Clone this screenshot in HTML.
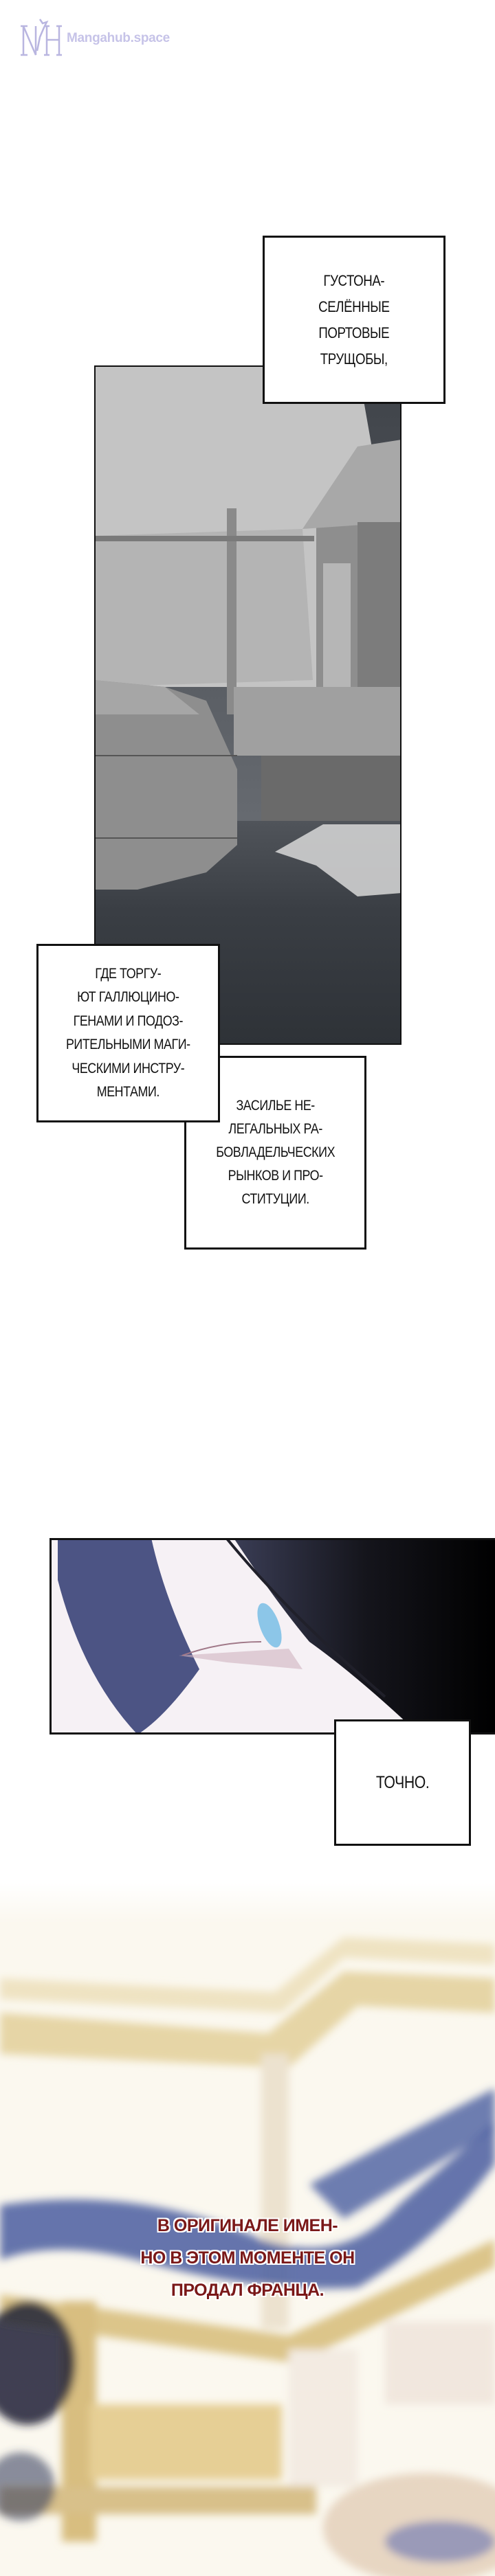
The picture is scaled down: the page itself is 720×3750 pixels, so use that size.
<!DOCTYPE html>
<html><head><meta charset="utf-8">
<style>
html,body{margin:0;padding:0;background:#fff;}
body{width:720px;height:3750px;position:relative;overflow:hidden;font-family:"Liberation Sans",sans-serif;}
.abs{position:absolute;}
.box{position:absolute;background:#fff;border:3px solid #111;box-sizing:border-box;display:flex;align-items:center;justify-content:center;text-align:center;color:#111;font-size:22px;letter-spacing:-0.5px;}
.box div{transform:scaleX(0.85);}
.red{position:absolute;left:0;width:720px;text-align:center;font-size:25px;font-weight:bold;color:#7a1818;line-height:47px;top:3217px;letter-spacing:-0.5px;
text-shadow:2px 0 #fff,-2px 0 #fff,0 2px #fff,0 -2px #fff,2px 2px #fff,-2px -2px #fff,2px -2px #fff,-2px 2px #fff;}
</style></head><body>

<!-- logo -->
<svg class="abs" style="left:28px;top:24px" width="64" height="62" viewBox="0 0 64 62">
<g fill="none" stroke="#b9b6e0" stroke-width="2.5">
<path d="M6 14 V56 M6 14 L24 56 V14 M40 14 V56 M58 14 V56 M40 34 H58 M2 14 H12 M2 56 H12 M36 14 H44 M54 14 H62 M36 56 H44 M54 56 H62"/>
<path d="M30 4 L34 10 L40 8 L36 16 L30 30 L26 50"/>
</g></svg>
<div class="abs" style="left:97px;top:45px;font-size:19px;font-weight:bold;color:#c6c3e8;letter-spacing:-0.3px">Mangahub.space</div>

<!-- panel 1 -->
<svg class="abs" style="left:137px;top:532px" width="447" height="989" viewBox="137 532 447 989">
<defs>
<linearGradient id="sky" x1="0" y1="0" x2="0" y2="1"><stop offset="0" stop-color="#3e4248"/><stop offset="1" stop-color="#7a7e84"/></linearGradient>
<linearGradient id="water" x1="0" y1="0" x2="0" y2="1"><stop offset="0" stop-color="#50545a"/><stop offset="0.4" stop-color="#3a3e44"/><stop offset="1" stop-color="#2e3237"/></linearGradient>
</defs>
<rect x="137" y="532" width="447" height="989" fill="url(#sky)"/>
<!-- sails -->
<polygon points="137,532 520,532 560,760 470,1000 137,1000" fill="#c4c4c4"/>
<polygon points="137,780 440,770 455,990 137,1000" fill="#b4b4b4"/>
<polygon points="560,840 600,860 600,1000 540,1000" fill="#c6c6c6"/>
<!-- building -->
<rect x="460" y="740" width="124" height="340" fill="#8e8e8e"/>
<polygon points="440,770 520,650 584,640 584,760" fill="#a8a8a8"/>
<rect x="470" y="820" width="40" height="260" fill="#b6b6b6"/>
<rect x="520" y="760" width="64" height="320" fill="#7c7c7c"/>
<!-- mast & beam -->
<rect x="330" y="740" width="14" height="300" fill="#8a8a8a"/>
<rect x="137" y="780" width="320" height="8" fill="#7a7a7a"/>
<!-- dock -->
<rect x="340" y="1000" width="244" height="100" fill="#a0a0a0"/>
<rect x="380" y="1100" width="204" height="110" fill="#6a6a6a"/>
<!-- water -->
<rect x="137" y="1195" width="447" height="326" fill="url(#water)"/>
<polygon points="470,1200 584,1200 584,1300 520,1305 460,1260 400,1240" fill="#d8d8d8" opacity="0.85"/>
<!-- hull -->
<polygon points="137,990 240,1000 300,1020 345,1120 345,1230 300,1270 200,1295 137,1295" fill="#8e8e8e"/>
<polygon points="137,990 240,1000 290,1040 137,1040" fill="#a6a6a6"/>
<line x1="137" y1="1100" x2="345" y2="1100" stroke="#555" stroke-width="2"/>
<line x1="137" y1="1220" x2="345" y2="1220" stroke="#555" stroke-width="2"/>
</svg>
<div class="abs" style="left:137px;top:532px;width:447px;height:989px;border:2px solid #111;box-sizing:border-box"></div>

<div class="box" style="left:382px;top:343px;width:266px;height:245px;line-height:38px"><div>ГУСТОНА-<br>СЕЛЁННЫЕ<br>ПОРТОВЫЕ<br>ТРУЩОБЫ,</div></div>
<div class="box" style="left:268px;top:1537px;width:265px;height:282px;line-height:34px;font-size:21px"><div>ЗАСИЛЬЕ НЕ-<br>ЛЕГАЛЬНЫХ РА-<br>БОВЛАДЕЛЬЧЕСКИХ<br>РЫНКОВ И ПРО-<br>СТИТУЦИИ.</div></div>
<div class="box" style="left:53px;top:1374px;width:267px;height:260px;line-height:34.5px;font-size:21px"><div>ГДЕ ТОРГУ-<br>ЮТ ГАЛЛЮЦИНО-<br>ГЕНАМИ И ПОДОЗ-<br>РИТЕЛЬНЫМИ МАГИ-<br>ЧЕСКИМИ ИНСТРУ-<br>МЕНТАМИ.</div></div>

<!-- face panel -->
<svg class="abs" style="left:72px;top:2239px" width="648" height="286" viewBox="72 2239 648 286">
<defs>
<linearGradient id="dark" x1="0" y1="0" x2="1" y2="0"><stop offset="0" stop-color="#3a3d55"/><stop offset="0.5" stop-color="#15151c"/><stop offset="1" stop-color="#000"/></linearGradient>
</defs>
<rect x="72" y="2239" width="648" height="286" fill="#f6f1f5"/>
<path d="M84 2239 L220 2239 Q240 2330 290 2430 Q240 2500 200 2525 Q120 2440 84 2300 Z" fill="#4c5484"/>
<path d="M340 2239 L720 2239 L720 2525 L610 2525 Q520 2440 450 2390 Q400 2330 340 2239 Z" fill="url(#dark)"/>
<path d="M330 2240 Q420 2350 560 2470" stroke="#20202a" stroke-width="4" fill="none"/>
<path d="M260 2410 L420 2400 L440 2430 L330 2420 Z" fill="#d0b4c0" opacity="0.6"/>
<ellipse cx="392" cy="2366" rx="14" ry="34" fill="#8cc6e8" transform="rotate(-20 392 2366)"/>
<path d="M265 2410 Q320 2390 380 2390" stroke="#a07888" stroke-width="2" fill="none"/>
</svg>
<div class="abs" style="left:72px;top:2239px;width:660px;height:286px;border:3px solid #111;box-sizing:border-box"></div>

<div class="box" style="left:486px;top:2503px;width:199px;height:184px;font-size:25px"><div>ТОЧНО.</div></div>

<!-- bottom art -->
<svg class="abs" style="left:0;top:2740px" width="720" height="1010" viewBox="0 2740 720 1010">
<defs>
<filter id="b"><feGaussianBlur stdDeviation="6"/></filter>
<linearGradient id="fade" x1="0" y1="0" x2="0" y2="1"><stop offset="0" stop-color="#fff"/><stop offset="1" stop-color="#fff" stop-opacity="0"/></linearGradient>
</defs>
<rect x="0" y="2740" width="720" height="1010" fill="#fbf8ef"/>
<g filter="url(#b)">
<polygon points="0,2930 390,2960 500,2870 720,2880 720,2930 520,2920 420,3010 0,2990" fill="#e6d5a6"/>
<polygon points="0,2880 400,2900 500,2820 720,2830 720,2860 500,2850 410,2930 0,2910" fill="#efe3c2"/>
<rect x="380" y="2990" width="40" height="400" fill="#ece2cf"/>
<polygon points="0,3340 420,3400 720,3260 720,3300 430,3440 0,3380" fill="#dcc58a"/>
<rect x="90" y="3350" width="50" height="350" fill="#d8be80"/>
<rect x="130" y="3500" width="280" height="110" fill="#e6cf95"/>
<rect x="0" y="3620" width="460" height="40" fill="#d8c08a"/>
<rect x="420" y="3420" width="100" height="200" fill="#f3ebe2"/>
<rect x="560" y="3380" width="160" height="120" fill="#f1e7de"/>
<ellipse cx="620" cy="3680" rx="150" ry="80" fill="#e7d6c2"/>
<ellipse cx="640" cy="3700" rx="80" ry="30" fill="#9a9ab8"/>
<path d="M0 3210 Q200 3180 380 3260 Q500 3300 580 3210 Q660 3140 720 3090 L720 3150 Q640 3260 520 3330 Q380 3340 200 3290 Q80 3260 0 3290 Z" fill="#4a5ea0" opacity="0.85"/>
<path d="M450 3180 Q560 3120 720 3040 L720 3100 Q600 3170 500 3230 Z" fill="#4a5ea0" opacity="0.8"/>
<ellipse cx="40" cy="3440" rx="70" ry="90" fill="#1e2236" opacity="0.85"/>
<ellipse cx="30" cy="3620" rx="50" ry="50" fill="#3a4262" opacity="0.6"/>
</g>
<rect x="0" y="2740" width="720" height="60" fill="url(#fade)"/>
</svg>

<div class="red">В ОРИГИНАЛЕ ИМЕН-<br>НО В ЭТОМ МОМЕНТЕ ОН<br>ПРОДАЛ ФРАНЦА.</div>

</body></html>
